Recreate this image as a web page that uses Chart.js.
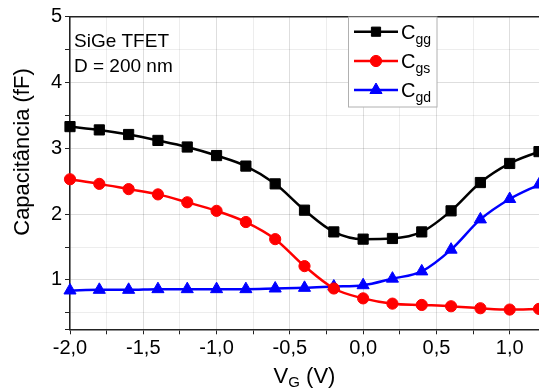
<!DOCTYPE html>
<html>
<head>
<meta charset="utf-8">
<script src="https://cdn.jsdelivr.net/npm/chart.js@4.4.0/dist/chart.umd.min.js"></script>
<style>
  html, body { margin: 0; padding: 0; background: #fff; }
  #wrap { width: 539px; height: 392px; position: relative; }
</style>
</head>
<body>
<div id="wrap"><canvas id="c" width="539" height="392"></canvas></div>
<script>
// ---- data ----
const vg  = [-2.0, -1.8, -1.6, -1.4, -1.2, -1.0, -0.8, -0.6, -0.4, -0.2, 0.0, 0.2, 0.4, 0.6, 0.8, 1.0, 1.2];
const cgg = [3.33, 3.28, 3.21, 3.12, 3.02, 2.89, 2.73, 2.46, 2.06, 1.73, 1.62, 1.63, 1.73, 2.05, 2.48, 2.77, 2.95];
const cgs = [2.53, 2.46, 2.38, 2.30, 2.18, 2.05, 1.88, 1.62, 1.21, 0.87, 0.72, 0.64, 0.62, 0.60, 0.57, 0.55, 0.56];
const cgd = [0.84, 0.85, 0.85, 0.86, 0.86, 0.86, 0.86, 0.87, 0.88, 0.90, 0.92, 1.02, 1.13, 1.46, 1.92, 2.23, 2.45];

const seriesNames = ['C', 'C', 'C'];
const seriesSubs  = ['gg', 'gs', 'gd'];
const seriesColors = ['#000000', '#ff0000', '#0000ff'];
const seriesMarkers = ['rect', 'circle', 'triangle'];

const xGridValues = [-2.0, -1.75, -1.5, -1.25, -1.0, -0.75, -0.5, -0.25, 0.0, 0.25, 0.5, 0.75, 1.0, 1.2];
const xTickValues = [-2.0, -1.5, -1.0, -0.5, 0.0, 0.5, 1.0];
const xTickLabels = ['-2,0', '-1,5', '-1,0', '-0,5', '0,0', '0,5', '1,0'];
const yGridValues = [0.25, 0.5, 1, 1.5, 2, 2.5, 3, 3.5, 4, 4.5, 5];
const yTickValues = [1, 2, 3, 4, 5];
const yTickLabels = ['1', '2', '3', '4', '5'];

const annotationLines = ['SiGe TFET', 'D = 200 nm'];
const yTitle = 'Capacitância (fF)';
const xTitleMain = 'V', xTitleSub = 'G', xTitleRest = ' (V)';

const FONT = '"Liberation Sans", Arial, Helvetica, sans-serif';

function near(a, b) { return Math.abs(a - b) < 1e-6; }
function isIn(arr, v) { return arr.some(a => near(a, v)); }

const datasets = [cgg, cgs, cgd].map((arr, i) => ({
  label: seriesNames[i] + seriesSubs[i],
  data: arr.map((y, k) => ({ x: vg[k], y })),
  borderColor: seriesColors[i],
  backgroundColor: seriesColors[i],
  pointBackgroundColor: seriesColors[i],
  pointBorderColor: seriesColors[i],
  pointStyle: seriesMarkers[i],
  pointRadius: i === 0 ? 7.2 : (i === 1 ? 5.6 : 7),
  pointBorderWidth: 1,
  borderWidth: 2.5,
  cubicInterpolationMode: 'monotone',
  clip: false
}));

const overlay = {
  id: 'overlay',
  beforeDatasetsDraw(chart) {
    const { ctx, chartArea: a } = chart;
    ctx.save();
    ctx.strokeStyle = '#222';
    ctx.lineWidth = 1.5;
    ctx.beginPath();
    ctx.moveTo(a.left, a.top);
    ctx.lineTo(a.right, a.top);
    ctx.stroke();
    ctx.restore();
  },
  afterDraw(chart) {
    const { ctx, chartArea: a } = chart;
    ctx.save();
    // annotation
    ctx.fillStyle = '#000';
    ctx.font = '19px ' + FONT;
    ctx.textAlign = 'left';
    ctx.textBaseline = 'alphabetic';
    ctx.fillText(annotationLines[0], 74, 47);
    ctx.fillText(annotationLines[1], 74, 72);

    // y title
    ctx.save();
    ctx.translate(29, 152);
    ctx.rotate(-Math.PI / 2);
    ctx.font = '22px ' + FONT;
    ctx.textAlign = 'center';
    ctx.fillText(yTitle, 0, 0);
    ctx.restore();

    // x title
    ctx.font = '22px ' + FONT;
    const w1 = ctx.measureText(xTitleMain).width;
    const w3 = ctx.measureText(xTitleRest).width;
    ctx.font = '15px ' + FONT;
    const w2 = ctx.measureText(xTitleSub).width;
    const total = w1 + w2 + w3;
    let x0 = (a.left + a.right) / 2 - total / 2;
    const base = 383;
    ctx.textAlign = 'left';
    ctx.font = '22px ' + FONT;
    ctx.fillText(xTitleMain, x0, base);
    ctx.font = '15px ' + FONT;
    ctx.fillText(xTitleSub, x0 + w1, base + 4);
    ctx.font = '22px ' + FONT;
    ctx.fillText(xTitleRest, x0 + w1 + w2, base);

    // legend
    const bx = 348.5, by = 17, bw = 88.5, bh = 90;
    ctx.fillStyle = '#fff';
    ctx.fillRect(bx, by, bw, bh);
    ctx.strokeStyle = '#b0b0b0';
    ctx.lineWidth = 1;
    ctx.strokeRect(bx, by, bw, bh);
    const rows = [31.7, 61, 90];
    chart.data.datasets.forEach((ds, i) => {
      const y = rows[i];
      ctx.strokeStyle = seriesColors[i];
      ctx.lineWidth = 2.5;
      ctx.beginPath();
      ctx.moveTo(354, y);
      ctx.lineTo(398, y);
      ctx.stroke();
      ctx.fillStyle = seriesColors[i];
      ctx.strokeStyle = seriesColors[i];
      ctx.lineWidth = 1;
      Chart.helpers.drawPoint(ctx, { pointStyle: seriesMarkers[i], radius: i === 0 ? 6.5 : (i === 1 ? 5.6 : 7), borderWidth: 1 }, 376, y);
      ctx.fillStyle = '#000';
      ctx.font = '20px ' + FONT;
      ctx.textAlign = 'left';
      ctx.fillText(seriesNames[i], 401, y + 7);
      const cw = ctx.measureText(seriesNames[i]).width;
      ctx.font = '14px ' + FONT;
      ctx.fillText(seriesSubs[i], 401 + cw, y + 12);
    });
    ctx.restore();
  }
};

new Chart(document.getElementById('c'), {
  type: 'line',
  data: { datasets },
  plugins: [overlay],
  options: {
    responsive: false,
    animation: false,
    devicePixelRatio: 1,
    layout: { autoPadding: false, padding: { top: 16.7, right: 0, left: 0, bottom: 0 } },
    plugins: { legend: { display: false }, tooltip: { enabled: false } },
    scales: {
      x: {
        type: 'linear',
        min: -2.0,
        max: 1.2,
        afterBuildTicks: s => { s.ticks = xGridValues.map(v => ({ value: v })); },
        afterFit: s => { s.height = 62.7; s.paddingRight = 0; s.paddingLeft = 0; },
        border: { color: '#222', width: 1.5 },
        grid: {
          color: c => isIn(xTickValues, c.tick.value) ? 'rgba(0,0,0,0.13)' : 'rgba(0,0,0,0.07)',
          lineWidth: 1,
          drawTicks: true,
          tickLength: 5,
          tickColor: '#222'
        },
        ticks: {
          autoSkip: false,
          maxRotation: 0,
          padding: 2,
          color: '#000',
          font: { family: FONT, size: 20 },
          callback: v => { const i = xTickValues.findIndex(t => near(t, v)); return i >= 0 ? xTickLabels[i] : ''; }
        }
      },
      y: {
        type: 'linear',
        min: 0.25,
        max: 5,
        afterBuildTicks: s => { s.ticks = yGridValues.map(v => ({ value: v })); },
        afterFit: s => { s.width = 70; s.paddingTop = 0; s.paddingBottom = 0; },
        border: { color: '#222', width: 1.5 },
        grid: {
          color: c => isIn(yTickValues, c.tick.value) ? 'rgba(0,0,0,0.13)' : 'rgba(0,0,0,0.07)',
          lineWidth: 1,
          drawTicks: true,
          tickLength: 5,
          tickColor: '#222'
        },
        ticks: {
          autoSkip: false,
          padding: 3,
          color: '#000',
          font: { family: FONT, size: 20 },
          callback: v => { const i = yTickValues.findIndex(t => near(t, v)); return i >= 0 ? yTickLabels[i] : ''; }
        }
      }
    }
  }
});
</script>
</body>
</html>
